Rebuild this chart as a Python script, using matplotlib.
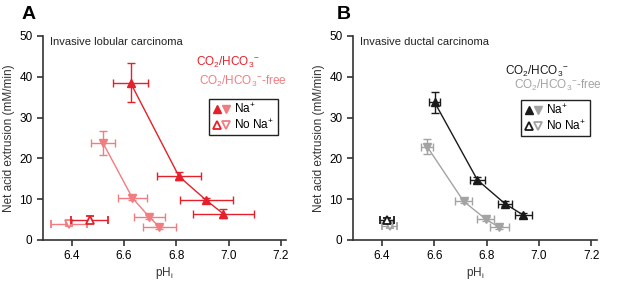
import matplotlib
matplotlib.use('Agg')
import matplotlib.pyplot as plt
from matplotlib.lines import Line2D
from matplotlib.legend_handler import HandlerTuple

plt.rcParams['font.family'] = ['Liberation Sans', 'DejaVu Sans']

# Panel A: invasive lobular carcinoma
a_co2_ph = [6.625, 6.81, 6.915, 6.98]
a_co2_ph_err = [0.068, 0.085, 0.10, 0.118]
a_co2_rate = [38.5, 15.6, 9.7, 6.4]
a_co2_rate_err = [4.8, 1.0, 0.7, 1.1]
a_co2_nona = (6.468, 0.07, 5.0, 0.9)

a_free_ph = [6.52, 6.632, 6.697, 6.735]
a_free_ph_err = [0.047, 0.056, 0.06, 0.064]
a_free_rate = [23.7, 10.3, 5.6, 3.2]
a_free_rate_err = [3.0, 0.6, 0.5, 0.4]
a_free_nona = (6.39, 0.07, 3.8, 0.4)

# Panel B: invasive ductal carcinoma
b_co2_ph = [6.602, 6.765, 6.87, 6.94]
b_co2_ph_err = [0.022, 0.028, 0.028, 0.032]
b_co2_rate = [33.7, 14.7, 8.9, 6.1]
b_co2_rate_err = [2.5, 0.7, 0.6, 0.6]
b_co2_nona = (6.42, 0.027, 4.8, 0.5)

b_free_ph = [6.573, 6.712, 6.797, 6.848]
b_free_ph_err = [0.022, 0.032, 0.033, 0.036]
b_free_rate = [22.9, 9.5, 5.1, 3.1]
b_free_rate_err = [1.9, 0.5, 0.5, 0.4]
b_free_nona = (6.43, 0.03, 3.4, 0.4)

RED = '#e5202a'
PINK = '#f27c80'
BLACK = '#1a1a1a'
GRAY = '#a3a3a3'


def draw_panel(ax, co2, free, nona_co2, nona_free, c1, c2, title):
    ph, phe, r, re = free
    ax.errorbar(ph, r, xerr=phe, yerr=re, color=c2, marker='v', ms=6,
                lw=1, elinewidth=1, capsize=3, capthick=1, zorder=2)
    ax.errorbar([nona_free[0]], [nona_free[2]], xerr=[nona_free[1]], yerr=[nona_free[3]],
                color=c2, marker='v', ms=6, mfc='white', mew=1.3, ls='none',
                elinewidth=1, capsize=3, capthick=1, zorder=2)
    ph, phe, r, re = co2
    ax.errorbar(ph, r, xerr=phe, yerr=re, color=c1, marker='^', ms=6,
                lw=1, elinewidth=1, capsize=3, capthick=1, zorder=3)
    ax.errorbar([nona_co2[0]], [nona_co2[2]], xerr=[nona_co2[1]], yerr=[nona_co2[3]],
                color=c1, marker='^', ms=6, mfc='white', mew=1.3, ls='none',
                elinewidth=1, capsize=3, capthick=1, zorder=3)

    ax.set_xlim(6.29, 7.22)
    ax.set_ylim(0, 50)
    ax.set_xticks([6.4, 6.6, 6.8, 7.0, 7.2])
    ax.set_xticklabels(['6.4', '6.6', '6.8', '7.0', '7.2'])
    ax.set_yticks([0, 10, 20, 30, 40, 50])
    ax.spines['top'].set_visible(False)
    ax.spines['right'].set_visible(False)
    for s in ('left', 'bottom'):
        ax.spines[s].set_linewidth(1.2)
        ax.spines[s].set_color('#333333')
    ax.tick_params(labelsize=8.5, width=1.2, length=4, color='#333333')
    ax.set_xlabel('pH$_\\mathregular{i}$', fontsize=8.5, color='#333333', labelpad=2)
    ax.set_ylabel('Net acid extrusion (mM/min)', fontsize=8.5, color='#333333', labelpad=3)
    ax.text(0.03, 0.97, title, transform=ax.transAxes, fontsize=8, va='center',
            color='#222222')


fig = plt.figure(figsize=(6.17, 2.85), dpi=100)
axA = fig.add_axes([0.0697, 0.158, 0.394, 0.716])
axB = fig.add_axes([0.572, 0.158, 0.395, 0.716])

draw_panel(axA, (a_co2_ph, a_co2_ph_err, a_co2_rate, a_co2_rate_err),
           (a_free_ph, a_free_ph_err, a_free_rate, a_free_rate_err),
           a_co2_nona, a_free_nona, RED, PINK, 'Invasive lobular carcinoma')
draw_panel(axB, (b_co2_ph, b_co2_ph_err, b_co2_rate, b_co2_rate_err),
           (b_free_ph, b_free_ph_err, b_free_rate, b_free_rate_err),
           b_co2_nona, b_free_nona, BLACK, GRAY, 'Invasive ductal carcinoma')

co2_lbl = 'CO$_\\mathregular{2}$/HCO$_\\mathregular{3}$$^{\\mathregular{-}}$'
free_lbl = 'CO$_\\mathregular{2}$/HCO$_\\mathregular{3}$$^{\\mathregular{-}}$-free'

panels = ((axA, RED, PINK, 0.76, 0.868, 0.642, 0.775, 0.683, 0.691),
          (axB, BLACK, GRAY, 0.754, 0.828, 0.66, 0.755, 0.689, 0.686))
for ax, c1, c2, x1, y1, x2, y2, lx, ly in panels:
    ax.text(x1, y1, co2_lbl, transform=ax.transAxes, fontsize=8.5, color=c1,
            ha='center', va='center')
    ax.text(x2, y2, free_lbl, transform=ax.transAxes, fontsize=8.5, color=c2,
            ha='left', va='center')
    handles = [(Line2D([], [], color=c1, marker='^', ls='none', ms=6),
                Line2D([], [], color=c2, marker='v', ls='none', ms=6)),
               (Line2D([], [], color=c1, marker='^', mfc='white', mew=1.3, ls='none', ms=6),
                Line2D([], [], color=c2, marker='v', mfc='white', mew=1.3, ls='none', ms=6))]
    leg = ax.legend(handles, ['Na$^\\mathregular{+}$', 'No Na$^\\mathregular{+}$'],
                    handler_map={tuple: HandlerTuple(ndivide=None, pad=0.1)},
                    loc='upper left', bbox_to_anchor=(lx, ly), fontsize=8.5,
                    handlelength=1.5, handletextpad=0.35, borderpad=0.3,
                    labelspacing=0.15, borderaxespad=0, fancybox=False, framealpha=1)
    leg.get_frame().set_edgecolor('#222222')
    leg.get_frame().set_linewidth(1.0)

fig.text(0.035, 0.95, 'A', fontsize=14, fontweight='bold', va='center')
fig.text(0.545, 0.95, 'B', fontsize=14, fontweight='bold', va='center')

fig.savefig('out.png', dpi=100)
